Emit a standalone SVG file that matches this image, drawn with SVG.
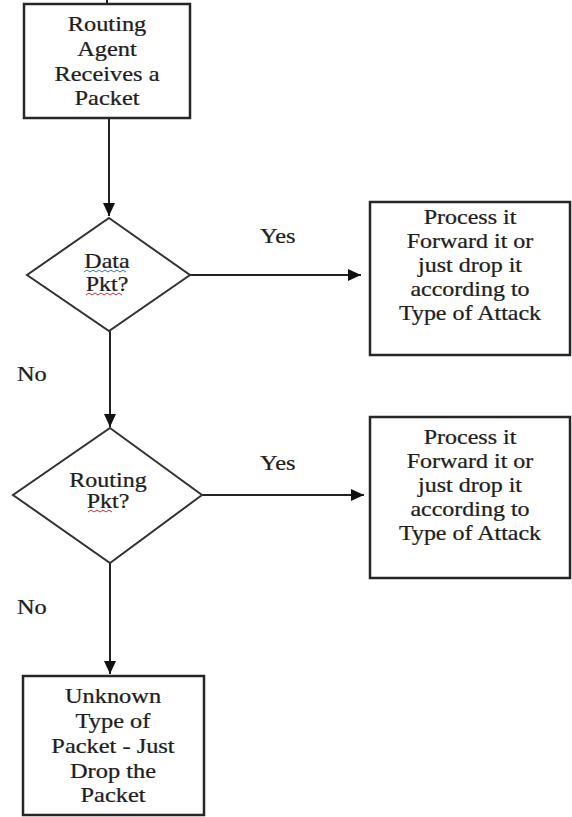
<svg xmlns="http://www.w3.org/2000/svg" width="572" height="817" viewBox="0 0 572 817">
<style>
.box{fill:#fff;stroke:#262626;stroke-width:2.5}
.dia{fill:#fff;stroke:#333;stroke-width:2}
.ln{fill:none;stroke:#222;stroke-width:2}
.t{font-family:"Liberation Serif","Times New Roman",serif;font-size:20px;fill:#1e1e1e;stroke:#1e1e1e;stroke-width:0.25;text-anchor:middle}
.lb{font-family:"Liberation Serif","Times New Roman",serif;font-size:20px;fill:#1e1e1e;stroke:#1e1e1e;stroke-width:0.25;text-anchor:start}
.sq{fill:none;stroke-width:1}
</style>
<defs>
<marker id="ah" markerUnits="userSpaceOnUse" markerWidth="14" markerHeight="12" refX="13" refY="6" orient="auto">
<path d="M0,0 L13,6 L0,12 Z" fill="#111"/>
</marker>
</defs>
<rect width="572" height="817" fill="#fff"/>

<g id="connectors">
<line class="ln" x1="107" y1="0" x2="107" y2="4"/>
<line class="ln" x1="109" y1="119" x2="109" y2="216" marker-end="url(#ah)"/>
<line class="ln" x1="190" y1="275" x2="361" y2="275" marker-end="url(#ah)"/>
<line class="ln" x1="110" y1="331" x2="110" y2="427" marker-end="url(#ah)"/>
<line class="ln" x1="202" y1="495" x2="364" y2="495" marker-end="url(#ah)"/>
<line class="ln" x1="110" y1="563" x2="110" y2="674" marker-end="url(#ah)"/>
<g transform="translate(260,243) scale(1.22,1)"><text class="lb" x="0" y="0">Yes</text></g>
<g transform="translate(17,381) scale(1.22,1)"><text class="lb" x="0" y="0">No</text></g>
<g transform="translate(260,470) scale(1.22,1)"><text class="lb" x="0" y="0">Yes</text></g>
<g transform="translate(17,614) scale(1.22,1)"><text class="lb" x="0" y="0">No</text></g>
</g>

<g id="start">
<rect class="box" x="24" y="4" width="166" height="114"/>
<g transform="translate(107,0) scale(1.22,1)">
<text class="t" x="0" y="31">Routing</text>
<text class="t" x="0" y="56">Agent</text>
<text class="t" x="0" y="81">Receives a</text>
<text class="t" x="0" y="105">Packet</text>
</g>
</g>

<g id="dataPkt">
<polygon class="dia" points="109,218 190,275 109,331 27,275"/>
<g transform="translate(107,0) scale(1.2,1)">
<text class="t" x="0" y="268">Data</text>
<text class="t" x="0" y="291">Pkt?</text>
</g>
<path class="sq" stroke="#3a7a9a" d="M84,272 l3,-2 l3,2 l3,-2 l3,2 l3,-2 l3,2 l3,-2 l3,2 l3,-2 l3,2 l3,-2 l3,2 l3,-2 l3,2"/>
<path class="sq" stroke="#c83030" d="M86,295 l3,-2 l3,2 l3,-2 l3,2 l3,-2 l3,2 l3,-2 l3,2 l3,-2 l3,2 l3,-2 l3,2"/>
</g>

<g id="process1">
<rect class="box" x="370" y="202" width="200" height="153"/>
<g transform="translate(470,0) scale(1.2,1)">
<text class="t" x="0" y="224">Process it</text>
<text class="t" x="0" y="248">Forward it or</text>
<text class="t" x="0" y="272">just drop it</text>
<text class="t" x="0" y="296">according to</text>
<text class="t" x="0" y="320">Type of Attack</text>
</g>
</g>

<g id="routingPkt">
<polygon class="dia" points="110,428 202,495 110,563 13,495"/>
<g transform="translate(108,0) scale(1.2,1)">
<text class="t" x="0" y="487">Routing</text>
<text class="t" x="0" y="508">Pkt?</text>
</g>
<path class="sq" stroke="#c83030" d="M88,512 l3,-2 l3,2 l3,-2 l3,2 l3,-2 l3,2 l3,-2 l3,2"/>
</g>

<g id="process2">
<rect class="box" x="370" y="417" width="200" height="161"/>
<g transform="translate(470,0) scale(1.2,1)">
<text class="t" x="0" y="444">Process it</text>
<text class="t" x="0" y="468">Forward it or</text>
<text class="t" x="0" y="492">just drop it</text>
<text class="t" x="0" y="516">according to</text>
<text class="t" x="0" y="540">Type of Attack</text>
</g>
</g>

<g id="unknown">
<rect class="box" x="23" y="676" width="181" height="139"/>
<g transform="translate(113,0) scale(1.22,1)">
<text class="t" x="0" y="703">Unknown</text>
<text class="t" x="0" y="728">Type of</text>
<text class="t" x="0" y="753">Packet - Just</text>
<text class="t" x="0" y="778">Drop the</text>
<text class="t" x="0" y="802">Packet</text>
</g>
</g>
</svg>
